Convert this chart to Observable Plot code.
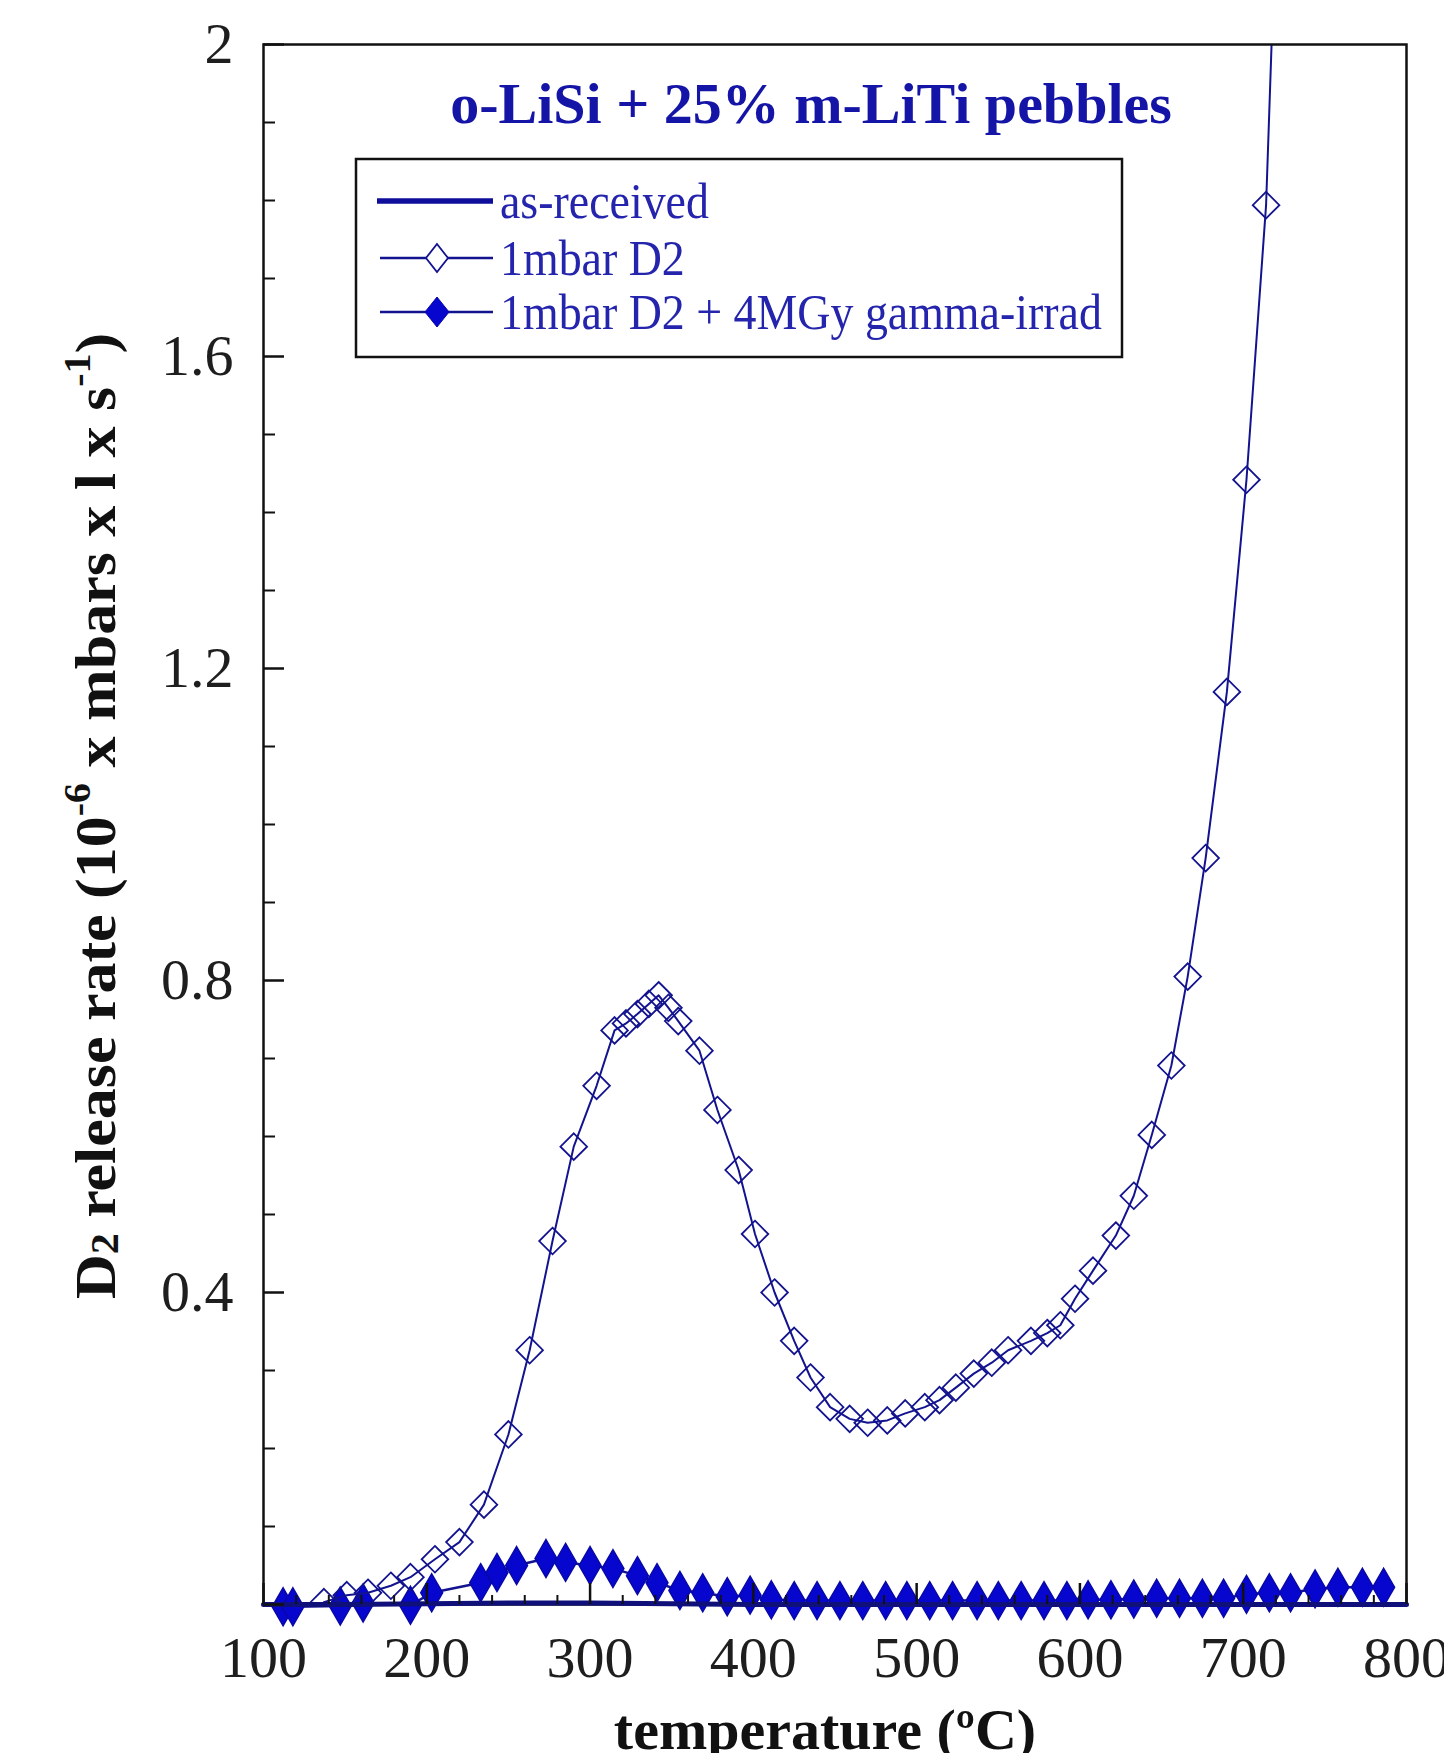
<!DOCTYPE html>
<html>
<head>
<meta charset="utf-8">
<script src="https://cdn.jsdelivr.net/npm/d3@7"></script>
<script src="https://cdn.jsdelivr.net/npm/@observablehq/plot@0.6"></script>
<style>
  html, body { margin: 0; padding: 0; background: #fff; }
  #wrap { position: relative; width: 1444px; height: 1753px; overflow: hidden; background: #fff; }
  #wrap > svg { position: absolute; left: 0; top: 0; }
  #overlay { pointer-events: none; }
</style>
</head>
<body>
<div id="wrap"></div>
<script>
// ---- Data ----
const xMajorTicks = [100, 200, 300, 400, 500, 600, 700, 800];
const xMinorTicks = [120, 140, 160, 180, 220, 240, 260, 280, 320, 340, 360, 380, 420, 440, 460, 480,
                     520, 540, 560, 580, 620, 640, 660, 680, 720, 740, 760, 780];
const yMajorTicks = [0, 0.4, 0.8, 1.2, 1.6, 2];
const yLabelTicks = [0.4, 0.8, 1.2, 1.6, 2];
const yTickLabels = ["0.4", "0.8", "1.2", "1.6", "2"];
const yMinorTicks = [0.1, 0.2, 0.3, 0.5, 0.6, 0.7, 0.9, 1.0, 1.1, 1.3, 1.4, 1.5, 1.7, 1.8, 1.9];

const seriesNames = ["as-received", "1mbar D2", "1mbar D2 + 4MGy gamma-irrad"];

// as-received (thick line, no markers)
const asRecTemp = [100, 150, 200, 250, 300, 350, 400, 450, 500, 550, 600, 650, 700, 750, 800];
const asRecRate = [0.0, 0.0, 0.001, 0.002, 0.002, 0.001, 0.0, 0.0, 0.0, 0.0, 0.0, 0.0, 0.0, 0.0, 0.0];

// 1mbar D2 (open diamonds)
const d2Temp = [137, 151, 164, 178, 190, 205, 220, 235, 250, 263, 277, 290, 304, 315, 322, 329, 336, 342,
                348, 354, 367, 378, 391, 401, 413, 425, 435, 447, 459, 470, 482, 493, 505, 514, 524, 535,
                546, 556, 570, 580, 588, 597, 608, 622, 633, 644, 656, 666, 677, 690, 702, 714, 719];
const d2Rate = [0.003, 0.012, 0.015, 0.024, 0.035, 0.058, 0.08, 0.128, 0.218, 0.326, 0.466, 0.587, 0.665,
                0.736, 0.745, 0.757, 0.77, 0.781, 0.765, 0.748, 0.71, 0.634, 0.557, 0.475, 0.4, 0.338,
                0.291, 0.253, 0.238, 0.233, 0.236, 0.245, 0.253, 0.262, 0.278, 0.296, 0.31, 0.326, 0.338,
                0.348, 0.358, 0.392, 0.428, 0.473, 0.524, 0.602, 0.691, 0.805, 0.957, 1.17, 1.442, 1.794, 2.1];

// 1mbar D2 + 4MGy gamma-irrad (filled diamonds)
const irrTemp = [112, 118, 147, 161, 190, 203, 233, 243, 255, 273, 285, 300, 314, 329, 341, 355, 369, 384,
                 398, 411, 425, 439, 453, 467, 481, 494, 508, 522, 537, 550, 564, 578, 592, 605, 619, 633,
                 647, 661, 675, 688, 702, 716, 729, 744, 758, 773, 786];
const irrRate = [-0.003, -0.003, -0.002, 0.002, -0.001, 0.015, 0.028, 0.041, 0.05, 0.059, 0.054, 0.05,
                 0.046, 0.037, 0.028, 0.018, 0.015, 0.01, 0.012, 0.006, 0.005, 0.005, 0.005, 0.005, 0.005,
                 0.005, 0.005, 0.005, 0.005, 0.005, 0.005, 0.005, 0.005, 0.006, 0.006, 0.007, 0.008, 0.008,
                 0.008, 0.008, 0.013, 0.015, 0.015, 0.02, 0.022, 0.022, 0.022];

const asRec = asRecTemp.map((t, i) => ({t, v: asRecRate[i]}));
const d2 = d2Temp.map((t, i) => ({t, v: d2Rate[i]}));
const irr = irrTemp.map((t, i) => ({t, v: irrRate[i]}));

// ---- Styles ----
const navy = "#13138f";
const fillBlue = "#0606cf";
const axisColor = "#111";
const serif = "'Liberation Serif', 'Times New Roman', serif";

const W = 1444, H = 1753;
const chart = Plot.plot({
  width: W, height: H,
  marginLeft: 263, marginRight: 38, marginTop: 44, marginBottom: 149,
  style: {fontFamily: serif, background: "white"},
  x: {domain: [100, 800]},
  y: {domain: [0, 2]},
  marks: [
    // curves
    Plot.line(irr, {x: "t", y: "v", stroke: navy, strokeWidth: 2.5}),
    Plot.dot(irr, {x: "t", y: "v", symbol: "diamond", r: 11.5, fill: fillBlue, stroke: "#0808a8", strokeWidth: 1.5}),
    Plot.line(d2, {x: "t", y: "v", stroke: navy, strokeWidth: 2, clip: true}),
    Plot.dot(d2, {x: "t", y: "v", symbol: "diamond2", r: 12, fill: "none", stroke: navy, strokeWidth: 1.8, clip: true}),
    // frame & axes
    Plot.frame({stroke: axisColor, strokeWidth: 2.5}),
    Plot.line(asRec, {x: "t", y: "v", stroke: "#10107a", strokeWidth: 5}),
    Plot.axisX({ticks: xMajorTicks, tickSize: -21, fill: "none", stroke: axisColor, strokeWidth: 2.5, label: null}),
    Plot.axisX({ticks: xMinorTicks, tickSize: -9, fill: "none", stroke: axisColor, strokeWidth: 2, label: null}),
    Plot.axisX({ticks: xMajorTicks, tickSize: 0, tickPadding: 31, fontSize: 58, fill: "#1e1e1e", label: null}),
    Plot.axisY({ticks: yMajorTicks, tickSize: -21, fill: "none", stroke: axisColor, strokeWidth: 2.5, label: null}),
    Plot.axisY({ticks: yMinorTicks, tickSize: -12, fill: "none", stroke: axisColor, strokeWidth: 2, label: null}),
    Plot.axisY({ticks: yLabelTicks, tickSize: 0, tickPadding: 30, fontSize: 58, fill: "#1e1e1e", label: null,
                tickFormat: (d) => yTickLabels[yLabelTicks.indexOf(d)]})
  ]
});
const wrap = document.getElementById("wrap");
wrap.appendChild(chart);

// ---- Overlay: title, legend, axis titles ----
const ns = "http://www.w3.org/2000/svg";
const ov = document.createElementNS(ns, "svg");
ov.setAttribute("id", "overlay");
ov.setAttribute("width", W);
ov.setAttribute("height", H);
ov.setAttribute("font-family", serif);
wrap.appendChild(ov);
function el(tag, attrs, parent, text) {
  const e = document.createElementNS(ns, tag);
  for (const k in attrs) e.setAttribute(k, attrs[k]);
  if (text != null) e.textContent = text;
  (parent || ov).appendChild(e);
  return e;
}

// Title
el("text", {x: 811, y: 123, "text-anchor": "middle", "font-size": 58, "font-weight": "bold", fill: "#1414a6"}, ov,
   "o-LiSi + 25% m-LiTi pebbles");

// Legend
el("rect", {x: 356, y: 159, width: 766, height: 198, fill: "white", stroke: axisColor, "stroke-width": 2.5});
const rows = [201, 258, 312];
const legendText = "#2424ad";
// row 1: thick line
el("line", {x1: 377, x2: 493, y1: rows[0], y2: rows[0], stroke: "#0e0e9a", "stroke-width": 5.5});
// row 2: thin line + open diamond
el("line", {x1: 380, x2: 493, y1: rows[1], y2: rows[1], stroke: navy, "stroke-width": 2.5});
el("path", {d: `M437,${rows[1]-14}L448,${rows[1]}L437,${rows[1]+14}L426,${rows[1]}Z`, fill: "white", stroke: navy, "stroke-width": 1.8});
// row 3: thin line + filled diamond
el("line", {x1: 380, x2: 493, y1: rows[2], y2: rows[2], stroke: navy, "stroke-width": 2.5});
el("path", {d: `M437,${rows[2]-15}L449,${rows[2]}L437,${rows[2]+15}L425,${rows[2]}Z`, fill: fillBlue, stroke: "#0808a8", "stroke-width": 1});
seriesNames.forEach((name, i) => {
  el("text", {transform: `translate(500,${rows[i] + 17}) scale(0.9,1)`, "font-size": 51, fill: legendText}, ov, name);
});

// Y axis title (rotated)
const yt = el("text", {transform: "translate(115,816) rotate(-90) scale(1,0.93)", "text-anchor": "middle",
                       "font-size": 62, "font-weight": "bold", fill: "#111"});
el("tspan", {}, yt, "D");
el("tspan", {"font-size": 42, dy: 3}, yt, "2");
el("tspan", {dy: -3}, yt, " release rate (10");
el("tspan", {"font-size": 40, dy: -27}, yt, "-6");
el("tspan", {dy: 27}, yt, "  x mbars x l x s");
el("tspan", {"font-size": 40, dy: -27}, yt, "-1");
el("tspan", {dy: 27}, yt, ")");

// X axis title
el("text", {x: 825, y: 1749, "text-anchor": "middle", "font-size": 58, "font-weight": "bold", fill: "#111"}, ov,
   "temperature (ºC)");
</script>
</body>
</html>
